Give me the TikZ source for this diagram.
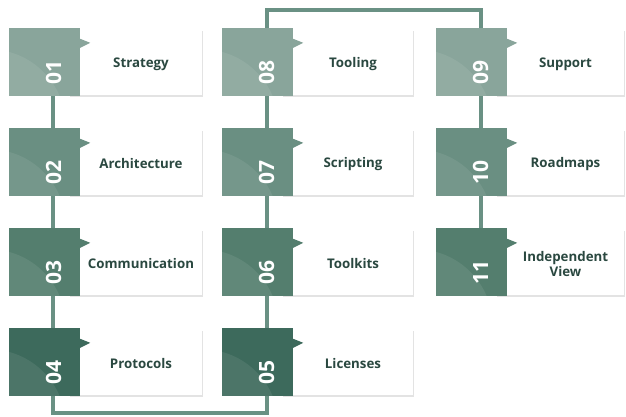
\documentclass[tikz,border=0pt]{standalone}
\usepackage{fontspec}
\setmainfont{Open Sans}
\usetikzlibrary{shadows,calc}
\definecolor{cA}{HTML}{89A59B}
\definecolor{cB}{HTML}{6A8F82}
\definecolor{cC}{HTML}{547E6E}
\definecolor{cD}{HTML}{3D6A5C}
\definecolor{lineC}{HTML}{6A9184}
\definecolor{txtC}{HTML}{2A4840}
\tikzset{
  sq/.style={minimum width=71pt, minimum height=68pt, inner sep=0pt, draw=none},
  lab/.style={font=\bfseries\fontsize{13.3}{15}\selectfont, text=txtC, align=center, inner sep=0pt},
  num/.style={font=\bfseries\fontsize{21}{22}\selectfont, text=white, inner sep=0pt, rotate=90},
  conn/.style={draw=lineC, line width=4pt},
  wbox/.style={fill=white, drop shadow={opacity=0.22, shadow xshift=0.8pt, shadow yshift=-1.8pt}},
}
% #1 name, #2 left, #3 top, #4 number, #5 label, #6 colour, #7 box right
\newcommand\mkitem[7]{%
  \path[wbox] (#2+60,#3+1.5) rectangle (#7,#3+67);
  \node[sq, fill=#6] (s#1) at (#2+35.5,#3+34) {};
  \begin{scope}
    \clip (s#1.south west) rectangle (s#1.north east);
    \fill[white, opacity=0.08] ([xshift=-20pt,yshift=-30pt]s#1.south west) circle (77pt);
  \end{scope}
  \fill[#6] ([yshift=-11pt]s#1.north east) -- ([xshift=10pt,yshift=-15pt]s#1.north east) -- ([yshift=-20pt]s#1.north east) -- cycle;
  \node[num] (n#1) at (#2+44.5,#3+45) {#4};
  \node[lab] (t#1) at ({(#2+71+#7)/2},#3+36) {#5};
}
\begin{document}
\begin{tikzpicture}[x=1pt,y=-1pt]
\fill[white] (0,0) rectangle (626,417);
\useasboundingbox (0,0) rectangle (626,417);
% items
\mkitem{01}{9}{28}{01}{Strategy}{cA}{202}
\mkitem{02}{9}{128}{02}{Architecture}{cB}{202}
\mkitem{03}{9}{228}{03}{Communication}{cC}{202}
\mkitem{04}{9}{328}{04}{Protocols}{cD}{202}
\mkitem{08}{222}{28}{08}{Tooling}{cA}{413}
\mkitem{07}{222}{128}{07}{Scripting}{cB}{413}
\mkitem{06}{222}{228}{06}{Toolkits}{cC}{413}
\mkitem{05}{222}{328}{05}{Licenses}{cD}{413}
\mkitem{09}{436}{28}{09}{Support}{cA}{624}
\mkitem{10}{436}{128}{10}{Roadmaps}{cB}{624}
\mkitem{11}{436}{228}{11}{Independent\\View}{cC}{624}
% connectors
\draw[conn] ([xshift=8pt]s01.south) -- ([xshift=8pt]s02.north);
\draw[conn] ([xshift=8pt]s02.south) -- ([xshift=8pt]s03.north);
\draw[conn] ([xshift=8pt]s03.south) -- ([xshift=8pt]s04.north);
\draw[conn] ([xshift=8pt]s04.south) -- ++(0,17) -| ([xshift=9pt]s05.south);
\draw[conn] ([xshift=9pt]s05.north) -- ([xshift=9pt]s06.south);
\draw[conn] ([xshift=9pt]s06.north) -- ([xshift=9pt]s07.south);
\draw[conn] ([xshift=9pt]s07.north) -- ([xshift=9pt]s08.south);
\draw[conn] ([xshift=9pt]s08.north) -- ++(0,-18) -| ([xshift=9pt]s09.north);
\draw[conn] ([xshift=9pt]s09.south) -- ([xshift=9pt]s10.north);
\draw[conn] ([xshift=9pt]s10.south) -- ([xshift=9pt]s11.north);
\end{tikzpicture}
\end{document}
